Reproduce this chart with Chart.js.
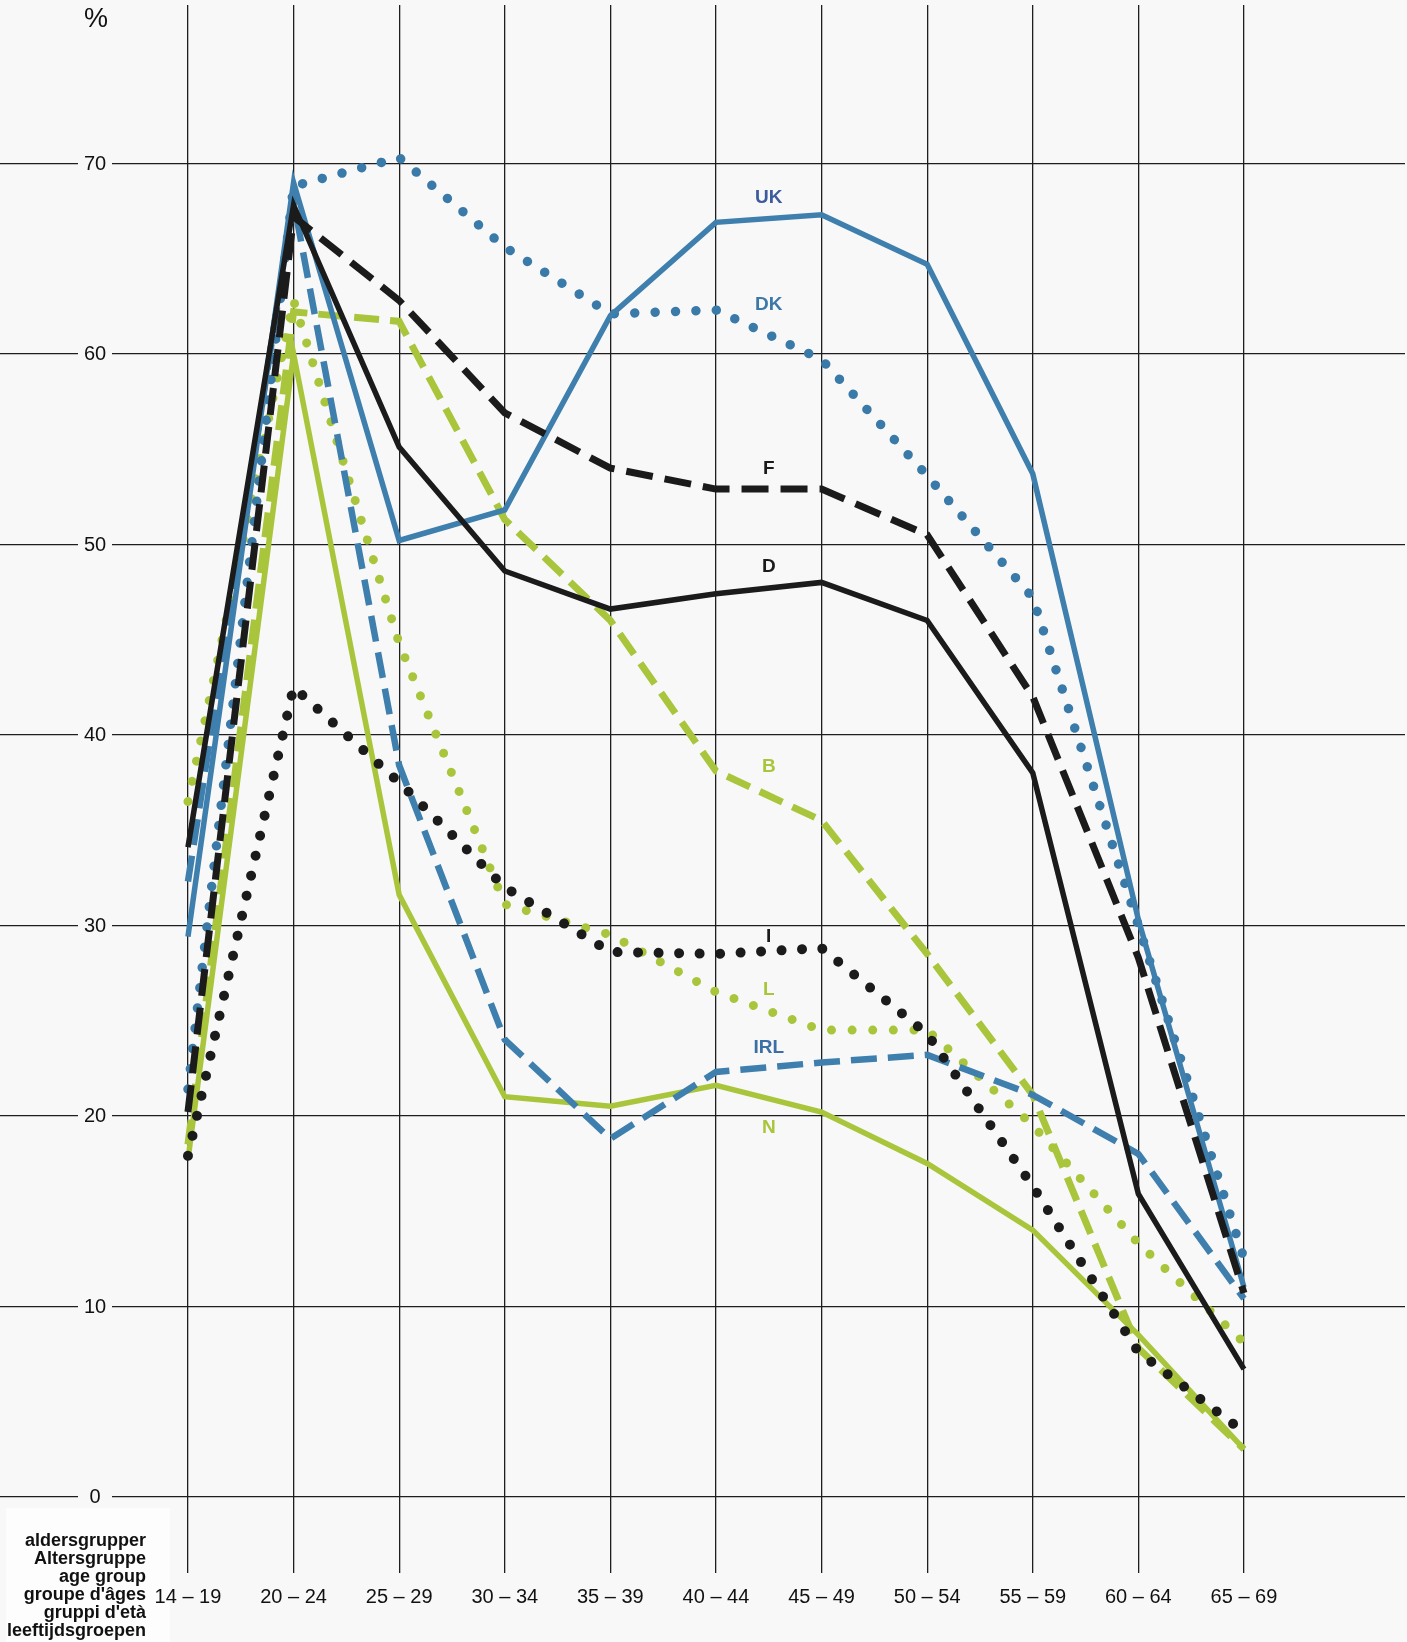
<!DOCTYPE html>
<html>
<head>
<meta charset="utf-8">
<script src="https://cdn.jsdelivr.net/npm/chart.js@4.4.1/dist/chart.umd.min.js"></script>
<style>
  html, body { margin: 0; padding: 0; background: #f8f8f8; }
  #wrap { width: 1407px; height: 1642px; }
</style>
</head>
<body>
<div id="wrap"><canvas id="c" width="1407" height="1642"></canvas></div>
<script>
// ---------- data ----------
const ageGroups = ['14 – 19','20 – 24','25 – 29','30 – 34','35 – 39','40 – 44','45 – 49','50 – 54','55 – 59','60 – 64','65 – 69'];
const yTicks = [0, 10, 20, 30, 40, 50, 60, 70];
const axisTitleLines = ['aldersgrupper', 'Altersgruppe', 'age group', "groupe d'âges", "gruppi d'età", 'leeftijdsgroepen'];

const UK  = [29.4, 69.0, 50.2, 51.8, 62.0, 66.9, 67.3, 64.7, 53.7, 30.3, 11.0];
const DK  = [21.4, 68.8, 70.3, 65.6, 62.1, 62.3, 59.7, 53.6, 47.2, 30.0, 12.5];
const F   = [20.2, 67.2, 62.8, 56.9, 54.0, 52.9, 52.9, 50.5, 42.0, 28.3, 10.7];
const D   = [34.1, 67.8, 55.1, 48.6, 46.6, 47.4, 48.0, 46.0, 38.0, 15.9, 6.7];
const B   = [18.5, 62.2, 61.7, 51.3, 46.0, 38.1, 35.5, 28.5, 21.1, 7.8, 2.5];
const I   = [17.9, 42.5, 37.5, 32.0, 28.6, 28.5, 28.8, 24.3, 16.3, 7.6, 3.4];
const L   = [36.5, 62.8, 44.8, 31.1, 29.5, 26.5, 24.5, 24.5, 19.5, 13.3, 8.1];
const IRL = [32.3, 68.0, 38.4, 24.0, 18.8, 22.3, 22.8, 23.2, 21.1, 18.0, 10.4];
const N   = [17.7, 60.0, 31.6, 21.0, 20.5, 21.6, 20.2, 17.5, 14.0, 8.5, 2.5];

// series label anchors (category position, value)
const labelNames  = ['UK', 'DK', 'F', 'D', 'B', 'I', 'L', 'IRL', 'N'];
const labelX      = [5.5, 5.5, 5.5, 5.5, 5.5, 5.5, 5.5, 5.5, 5.5];
const labelValues = [68.2, 62.55, 53.95, 48.8, 38.3, 29.4, 26.6, 23.55, 19.35];

// ---------- styles ----------
const BLACK = '#1b1b1b';
const BLUE = '#3e7fae';
const GREEN = '#a9c53c';
const labelColors = ['#3d5c9d', '#3c78aa', BLACK, BLACK, GREEN, BLACK, GREEN, '#3b70a6', GREEN];
const BG = '#f8f8f8';
const FONT = "'Liberation Sans Narrow', 'Liberation Sans', Arial, sans-serif";
const FONT_W = "'Liberation Sans', Arial, sans-serif";

const toXY = arr => arr.map((v, i) => ({ x: i, y: v }));
const solid = (data, color, w) => ({ data: toXY(data), borderColor: color, borderWidth: w, pointRadius: 0, tension: 0, borderCapStyle: 'butt', borderJoinStyle: 'miter', fill: false });
const dashed = (data, color, w, dash) => ({ ...solid(data, color, w), borderDash: dash });
const dotted = (data, color, w, gap) => ({ ...solid(data, color, w), borderDash: [0.01, gap], borderCapStyle: 'round', borderJoinStyle: 'round' });

const datasets = [
  solid(D, BLACK, 5.5),
  dashed(F, BLACK, 7, [27, 12]),
  dotted(I, BLACK, 10, 20.5),
  solid(UK, BLUE, 5.5),
  dotted(DK, '#3a7aa9', 9.5, 20.4),
  dashed(IRL, BLUE, 6.5, [26, 11]),
  dashed(B, GREEN, 7, [25, 11]),
  dotted(L, GREEN, 9, 20.6),
  solid(N, GREEN, 5.5)
];
datasets.forEach((d, i) => d.label = labelNames[[3,2,5,0,1,7,4,6,8][i]]);

const decorPlugin = {
  id: 'decor',
  beforeDraw(chart) {
    const ctx = chart.ctx;
    ctx.save();
    ctx.fillStyle = BG;
    ctx.fillRect(0, 0, chart.width, chart.height);
    // lighter box behind the axis title
    ctx.fillStyle = '#fdfdfd';
    ctx.fillRect(6, 1508, 164, 134);
    ctx.restore();
  },
  beforeDatasetsDraw(chart) {
    const ctx = chart.ctx;
    const ys = chart.scales.y;
    ctx.save();
    ctx.font = '20px ' + FONT;
    ctx.textAlign = 'center';
    ctx.textBaseline = 'middle';
    const cx = 95;
    yTicks.forEach(v => {
      const py = ys.getPixelForValue(v);
      ctx.fillStyle = BG;
      ctx.fillRect(cx - 17, py - 4, 34, 8);
      ctx.fillStyle = '#111';
      ctx.fillText(String(v), cx, py + 1);
    });
    ctx.font = '27px ' + FONT;
    ctx.fillText('%', 96, 20);
    // axis title block
    ctx.font = 'bold 18px ' + FONT_W;
    ctx.textAlign = 'right';
    ctx.fillStyle = '#111';
    axisTitleLines.forEach((t, i) => ctx.fillText(t, 146, 1541 + i * 18));
    ctx.restore();
  },
  afterDatasetsDraw(chart) {
    const ctx = chart.ctx;
    const xs = chart.scales.x, ys = chart.scales.y;
    ctx.save();
    ctx.font = 'bold 19px ' + FONT_W;
    ctx.textAlign = 'center';
    ctx.textBaseline = 'middle';
    labelNames.forEach((n, i) => {
      ctx.fillStyle = labelColors[i];
      ctx.fillText(n, xs.getPixelForValue(labelX[i]), ys.getPixelForValue(labelValues[i]));
    });
    ctx.restore();
  }
};

new Chart(document.getElementById('c'), {
  type: 'line',
  data: { datasets },
  options: {
    responsive: false,
    devicePixelRatio: 1,
    animation: false,
    events: [],
    layout: { padding: { top: 5, right: 2, left: 0, bottom: 0 } },
    plugins: { legend: { display: false }, tooltip: { enabled: false } },
    scales: {
      x: {
        type: 'linear',
        min: -1.78,
        max: 11.525,
        afterBuildTicks: s => { s.ticks = ageGroups.map((_, i) => ({ value: i })); },
        afterFit: s => { s.height = 69; },
        grid: { color: '#1e1e1e', lineWidth: 1.3, drawTicks: false },
        border: { display: false },
        ticks: {
          autoSkip: false, maxRotation: 0, padding: 12,
          color: '#111',
          font: { family: FONT, size: 20 },
          callback: v => ageGroups[v] ?? ''
        }
      },
      y: {
        type: 'linear',
        min: -4.0,
        max: 78.31,
        afterBuildTicks: s => { s.ticks = yTicks.map(v => ({ value: v })); },
        afterFit: s => { s.width = 0; },
        grid: { color: '#1e1e1e', lineWidth: 1.3, drawTicks: false },
        border: { display: false },
        ticks: { display: false }
      }
    }
  },
  plugins: [decorPlugin]
});
</script>
</body>
</html>
